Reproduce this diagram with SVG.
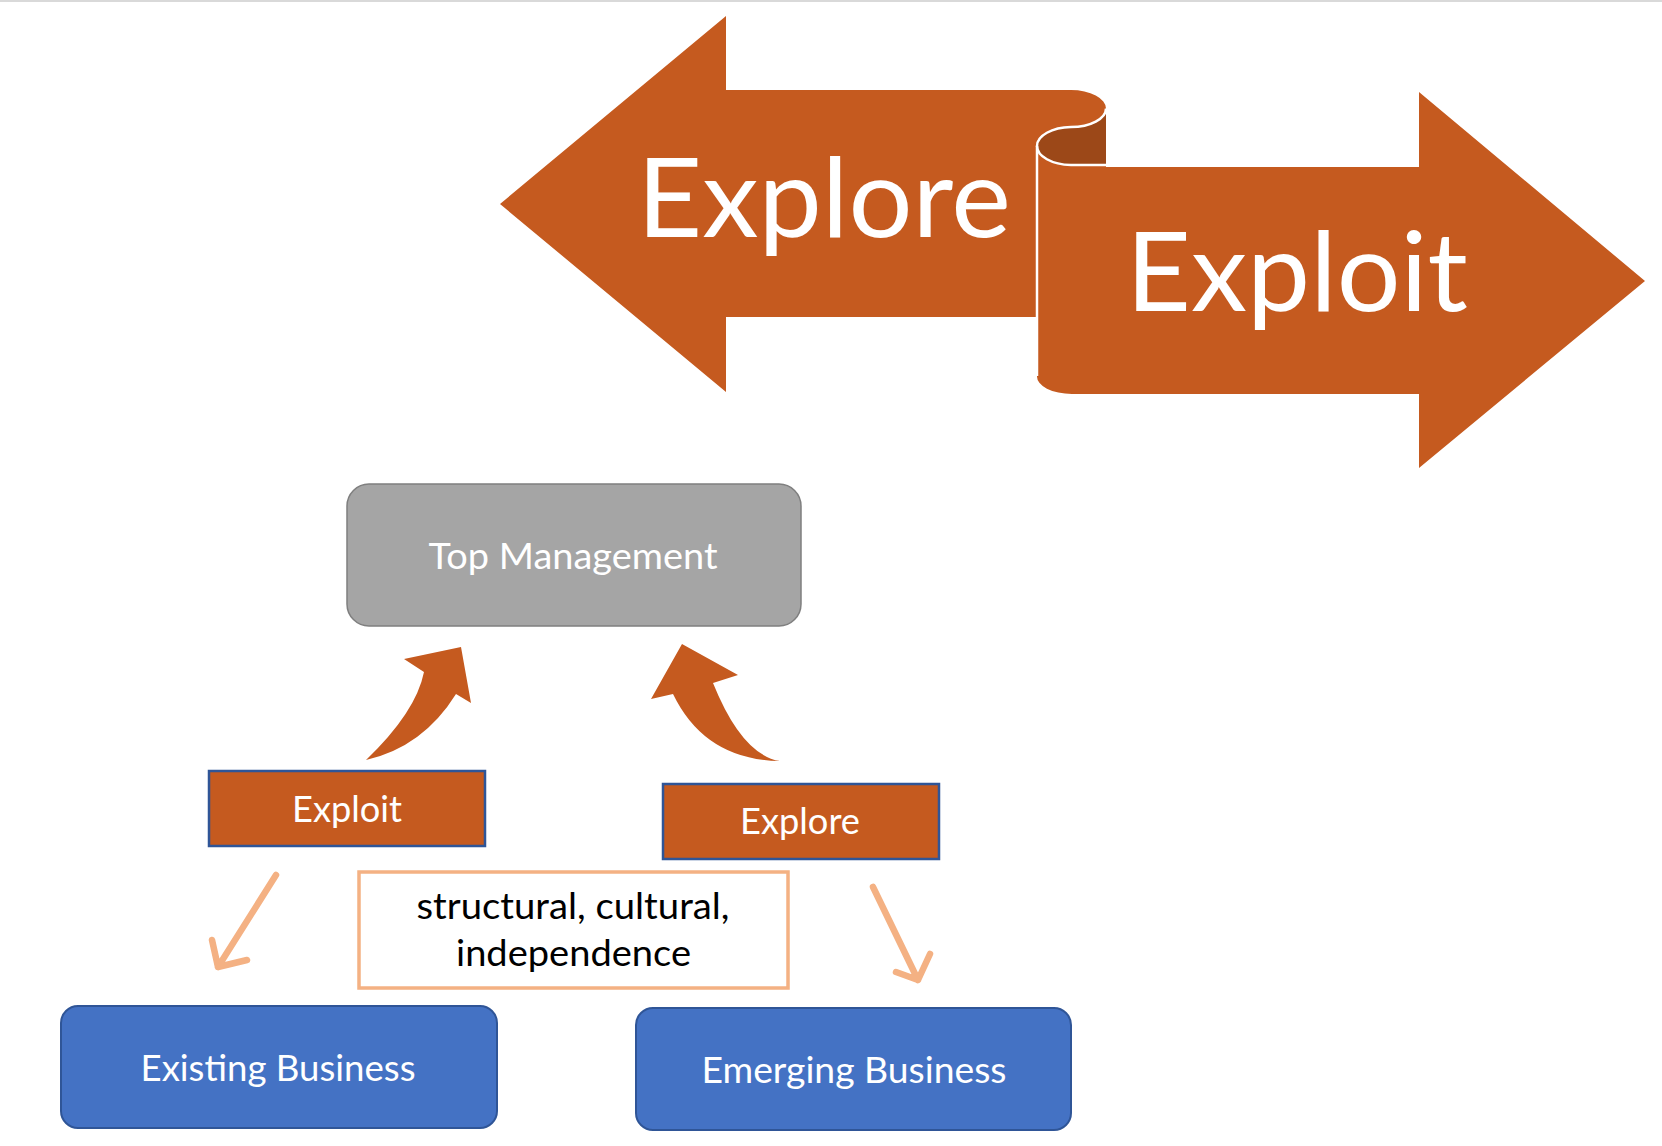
<svg xmlns="http://www.w3.org/2000/svg" width="1662" height="1146" viewBox="0 0 1662 1146">
<style>
.orange{fill:#C55A1F}
.dark{fill:#9C4818}
.wl{fill:none;stroke:#FFFFFF;stroke-width:2.5}
.t{font-family:Lato,"Open Sans","Liberation Sans",sans-serif;fill:#FFFFFF;text-anchor:middle}
.big{font-size:110px}
.sm{font-size:36px}
.blk{fill:#000000}
.biz{fill:#4472C4;stroke:#2F5597;stroke-width:2}
.tag{fill:#C55A1F;stroke:#2F5597;stroke-width:2.5}
.thin{fill:none;stroke:#F4B183;stroke-width:6.5;stroke-linecap:round;stroke-linejoin:round}
</style>
<rect x="0" y="0" width="1662" height="2" fill="#D9D9D9"/>
<g id="big-explore">
<path class="orange" d="M500,204 L726,16 L726,90 L1071,90 A35,18.5 0 0 1 1071,127 A35,19 0 0 0 1036,146 L1036,317 L726,317 L726,392 Z"/>
<text class="t big" x="824" y="237" textLength="374" lengthAdjust="spacingAndGlyphs">Explore</text>
</g>
<g id="big-exploit">
<path class="orange" d="M1037,146 L1037,376 A35,17.5 0 0 0 1072,394 L1419,394 L1419,468 L1645,281 L1419,92 L1419,167 L1106,167 L1106,165 L1071,165 A35,19 0 0 1 1037,146 Z"/>
<path class="dark" d="M1106,108.5 L1106,165 L1071,165 A35,19 0 0 1 1071,127 A35,18.5 0 0 0 1106,108.5 Z"/>
<path class="wl" d="M1106,108.5 A35,18.5 0 0 1 1071,127 A35,19 0 0 0 1037,146 A35,19 0 0 0 1071,165 L1106,165"/>
<line class="wl" x1="1037" y1="146" x2="1037" y2="376"/>
<text class="t big" x="1297" y="311" textLength="342" lengthAdjust="spacingAndGlyphs">Exploit</text>
</g>
<g id="top-management">
<rect x="347" y="484" width="454" height="142" rx="22" ry="22" fill="#A5A5A5" stroke="#7F7F7F" stroke-width="1.5"/>
<text class="t sm" x="573" y="569" textLength="289" lengthAdjust="spacingAndGlyphs">Top Management</text>
</g>
<g id="exploit">
<rect class="tag" x="209" y="771" width="276" height="75"/>
<text class="t sm" x="347" y="822" textLength="110" lengthAdjust="spacingAndGlyphs">Exploit</text>
</g>
<g id="explore">
<rect class="tag" x="663" y="784" width="276" height="75"/>
<text class="t sm" x="800" y="834" textLength="120" lengthAdjust="spacingAndGlyphs">Explore</text>
</g>
<g id="independence-note">
<rect x="359" y="872" width="429" height="116" fill="#FFFFFF" stroke="#F4B183" stroke-width="3.5"/>
<text class="t sm blk" x="573" y="919" textLength="313" lengthAdjust="spacingAndGlyphs">structural, cultural,</text>
<text class="t sm blk" x="573.5" y="966" textLength="235" lengthAdjust="spacingAndGlyphs">independence</text>
</g>
<g id="existing-business">
<rect class="biz" x="61" y="1006" width="436" height="122" rx="17" ry="17"/>
<text class="t sm" x="278" y="1081" textLength="275" lengthAdjust="spacingAndGlyphs">Existing Business</text>
</g>
<g id="emerging-business">
<rect class="biz" x="636" y="1008" width="435" height="122" rx="17" ry="17"/>
<text class="t sm" x="854" y="1083" textLength="305" lengthAdjust="spacingAndGlyphs">Emerging Business</text>
</g>
<g id="connectors">
<path class="orange" d="M366,760 Q416,712 424,672 L404,659 L461,647 L471,703 L456,694 Q423,747 366,760 Z"/>
<path class="orange" d="M780,761 Q742,755 713,683 L738,675 L682,644 L651,699 L673,694 Q705,760 780,761 Z"/>
<path class="thin" d="M276,875 L218,967 M212,940 L218,967 L247,960"/>
<path class="thin" d="M873,887 L918,980 M896,972 L918,980 L930,954"/>
</g>
</svg>
